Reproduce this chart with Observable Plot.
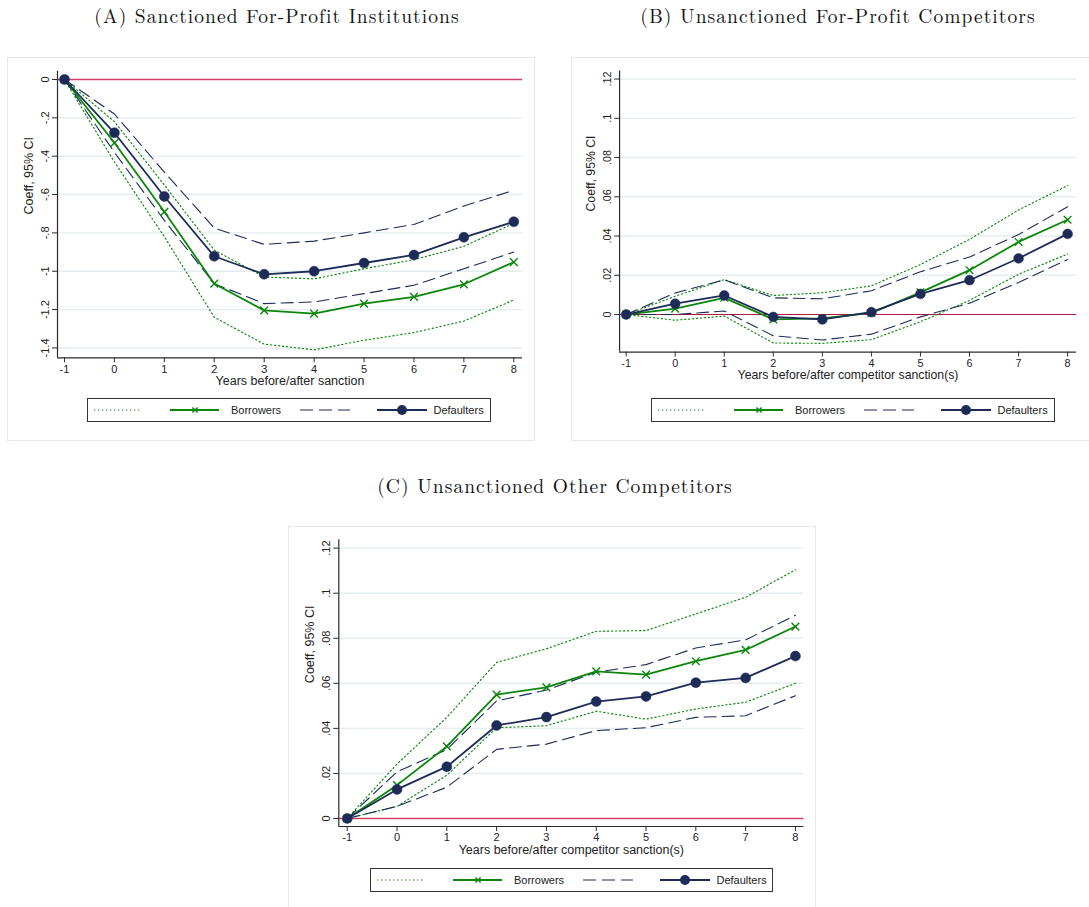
<!DOCTYPE html>
<html>
<head>
<meta charset="utf-8">
<script src="https://cdn.jsdelivr.net/npm/d3@7"></script>
<script src="https://cdn.jsdelivr.net/npm/@observablehq/plot@0.6"></script>
<style>
  html, body { margin: 0; padding: 0; background: #fff; }
  body { width: 1089px; height: 907px; position: relative; overflow: hidden; }
  .box { position: absolute; border: 1px solid #e3eaed; box-sizing: border-box; }
  .title { position: absolute; text-align: center; font-family: "Latin Modern Roman", "CMU Serif", "Liberation Serif", serif; font-size: 19.5px; letter-spacing: 1.05px; line-height: 20px; color: #111; white-space: nowrap; }
  .panel { position: absolute; }
  .legend { position: absolute; border: 1px solid #333; box-sizing: border-box; background: #fff; }
  .legend svg { display: block; }
</style>
</head>
<body>
<script>
// ---------- data ----------
const years = [-1, 0, 1, 2, 3, 4, 5, 6, 7, 8];

// Panel A: Sanctioned For-Profit Institutions
const A_borrowers    = [0, -0.330, -0.690, -1.065, -1.204, -1.221, -1.169, -1.134, -1.068, -0.952];
const A_borrowers_lo = [0, -0.430, -0.820, -1.240, -1.380, -1.410, -1.360, -1.320, -1.260, -1.150];
const A_borrowers_hi = [0, -0.220, -0.550, -0.890, -1.030, -1.040, -0.987, -0.940, -0.870, -0.750];
const A_defaulters    = [0, -0.278, -0.610, -0.922, -1.016, -1.000, -0.957, -0.915, -0.823, -0.742];
const A_defaulters_lo = [0, -0.380, -0.735, -1.065, -1.169, -1.160, -1.117, -1.073, -0.987, -0.900];
const A_defaulters_hi = [0, -0.180, -0.483, -0.775, -0.860, -0.843, -0.800, -0.756, -0.660, -0.578];
const A_yticks = [0, -0.2, -0.4, -0.6, -0.8, -1, -1.2, -1.4];

// Panel B: Unsanctioned For-Profit Competitors
const B_borrowers    = [0, 0.0030, 0.0085, -0.0025, -0.0020, 0.0008, 0.0113, 0.0226, 0.0370, 0.0483];
const B_borrowers_lo = [0, -0.0029, -0.0008, -0.0145, -0.0147, -0.0128, -0.0037, 0.0072, 0.0205, 0.0308];
const B_borrowers_hi = [0, 0.0093, 0.0178, 0.0097, 0.0111, 0.0146, 0.0255, 0.0383, 0.0533, 0.0657];
const B_defaulters    = [0, 0.0055, 0.0097, -0.0012, -0.0025, 0.0012, 0.0105, 0.0175, 0.0286, 0.0411];
const B_defaulters_lo = [0, 0.0000, 0.0018, -0.0108, -0.0130, -0.0100, -0.0012, 0.0058, 0.0163, 0.0280];
const B_defaulters_hi = [0, 0.0110, 0.0177, 0.0085, 0.0080, 0.0121, 0.0218, 0.0293, 0.0408, 0.0549];
const B_yticks = [0, 0.02, 0.04, 0.06, 0.08, 0.1, 0.12];

// Panel C: Unsanctioned Other Competitors
const C_borrowers    = [0, 0.0148, 0.0320, 0.0550, 0.0582, 0.0653, 0.0639, 0.0698, 0.0748, 0.0852];
const C_borrowers_lo = [0, 0.0054, 0.0192, 0.0403, 0.0412, 0.0476, 0.0441, 0.0486, 0.0516, 0.0600];
const C_borrowers_hi = [0, 0.0242, 0.0449, 0.0693, 0.0753, 0.0831, 0.0834, 0.0908, 0.0982, 0.1104];
const C_defaulters    = [0, 0.0129, 0.0230, 0.0413, 0.0450, 0.0519, 0.0542, 0.0603, 0.0624, 0.0721];
const C_defaulters_lo = [0, 0.0054, 0.0139, 0.0307, 0.0330, 0.0390, 0.0403, 0.0449, 0.0456, 0.0545];
const C_defaulters_hi = [0, 0.0207, 0.0306, 0.0522, 0.0570, 0.0649, 0.0683, 0.0757, 0.0793, 0.0902];
const C_yticks = [0, 0.02, 0.04, 0.06, 0.08, 0.1, 0.12];

const titles = ["(A) Sanctioned For-Profit Institutions", "(B) Unsanctioned For-Profit Competitors", "(C) Unsanctioned Other Competitors"];
const xLabels = ["Years before/after sanction", "Years before/after competitor sanction(s)", "Years before/after competitor sanction(s)"];
const yLabel = "Coeff, 95% CI";
const legendLabels = ["Borrowers", "Defaulters"];

// ---------- style ----------
const GREEN = "#0a870a";
const NAVY = "#1c2b57";
const GRID = "#e4edef";
const AXIS = "#2a2a2a";

function stataFmt(d) {
  const s = (Math.round(d * 100) / 100).toString();
  return s.replace(/^(-?)0\.(\d)/, "$1.$2");
}

function makePanel(cfg) {
  const data = years.map((x, i) => ({
    x, b: cfg.b[i], bl: cfg.bl[i], bh: cfg.bh[i], d: cfg.d[i], dl: cfg.dl[i], dh: cfg.dh[i]
  }));
  const grid = cfg.yticks.filter(t => t !== 0);
  return Plot.plot({
    width: 528,
    height: 341,
    marginLeft: cfg.ml,
    marginRight: cfg.mr,
    marginTop: cfg.mt,
    marginBottom: cfg.mb,
    style: {fontFamily: "'Liberation Sans', Arial, Helvetica, sans-serif", fontSize: "11px", background: "transparent", color: "#222", overflow: "visible"},
    x: {domain: cfg.xdom},
    y: {domain: cfg.ydom},
    marks: [
      Plot.gridY(grid, {stroke: GRID, strokeOpacity: 1, strokeWidth: 1.4}),
      Plot.ruleY([0], {stroke: cfg.zeroColor, strokeWidth: cfg.zeroW}),
      Plot.line(data, {x: "x", y: "bl", stroke: GREEN, strokeWidth: 1.15, strokeDasharray: "1.3,2.7"}),
      Plot.line(data, {x: "x", y: "bh", stroke: GREEN, strokeWidth: 1.15, strokeDasharray: "1.3,2.7"}),
      Plot.line(data, {x: "x", y: "dl", stroke: NAVY, strokeWidth: 1.1, strokeDasharray: "12,6"}),
      Plot.line(data, {x: "x", y: "dh", stroke: NAVY, strokeWidth: 1.1, strokeDasharray: "12,6"}),
      Plot.line(data, {x: "x", y: "b", stroke: GREEN, strokeWidth: 1.8}),
      Plot.dot(data, {x: "x", y: "b", symbol: "times", r: 3.6, stroke: GREEN, strokeWidth: 1.4}),
      Plot.line(data, {x: "x", y: "d", stroke: NAVY, strokeWidth: 1.8}),
      Plot.dot(data, {x: "x", y: "d", r: 5, fill: NAVY, stroke: NAVY, strokeWidth: 0.5}),
      Plot.ruleX([cfg.xdom[0]], {stroke: AXIS, strokeWidth: 1.2}),
      Plot.ruleY([cfg.ydom[0]], {stroke: AXIS, strokeWidth: 1.2}),
      Plot.axisX({ticks: years, tickFormat: d => String(d), tickSize: 5, tickPadding: 2, label: null, stroke: AXIS}),
      Plot.axisY({ticks: cfg.yticks, tickFormat: stataFmt, tickRotate: -90, tickSize: 5, tickPadding: 4, label: null, stroke: AXIS}),
      Plot.text([cfg.xlabel], {frameAnchor: "bottom", dy: 27, text: d => d, fontSize: 12.5, fill: "#222"}),
      Plot.text([yLabel], {frameAnchor: "left", dx: -29, rotate: -90, text: d => d, fontSize: 12.5, fill: "#222"})
    ]
  });
}

function legendSVG(w) {
  const y = 11;
  return `<svg width="${w}" height="22" xmlns="http://www.w3.org/2000/svg" font-family="'Liberation Sans', Arial, sans-serif" font-size="11">
    <line x1="6" x2="54" y1="${y}" y2="${y}" stroke="${GREEN}" stroke-width="1.15" stroke-dasharray="1.3,2.7"/>
    <line x1="82" x2="131" y1="${y}" y2="${y}" stroke="${GREEN}" stroke-width="1.8"/>
    <path d="M104.4,${y - 2.6}L109.6,${y + 2.6}M109.6,${y - 2.6}L104.4,${y + 2.6}" stroke="${GREEN}" stroke-width="1.4"/>
    <text x="143" y="${y}" dy="0.35em" fill="#222">${legendLabels[0]}</text>
    <line x1="212" x2="262" y1="${y}" y2="${y}" stroke="${NAVY}" stroke-width="1.1" stroke-dasharray="13,6"/>
    <line x1="289" x2="339" y1="${y}" y2="${y}" stroke="${NAVY}" stroke-width="1.8"/>
    <circle cx="314" cy="${y}" r="5" fill="${NAVY}"/>
    <text x="345.5" y="${y}" dy="0.35em" fill="#222">${legendLabels[1]}</text>
  </svg>`;
}

function addDiv(cls, left, top, width, height, html) {
  const el = document.createElement("div");
  el.className = cls;
  el.style.left = left + "px";
  el.style.top = top + "px";
  if (width != null) el.style.width = width + "px";
  if (height != null) el.style.height = height + "px";
  if (html != null) el.innerHTML = html;
  document.body.appendChild(el);
  return el;
}

const panels = [
  {box: [7, 57, 528, 384], title: [277, 5], svg: [7, 57], legend: [87.3, 398.3],
   b: A_borrowers, bl: A_borrowers_lo, bh: A_borrowers_hi, d: A_defaulters, dl: A_defaulters_lo, dh: A_defaulters_hi,
   yticks: A_yticks, xdom: [-1.14, 8.174], ydom: [-1.4515, 0.0433], ml: 50, mr: 13, mt: 13.7, mb: 40.7,
   zeroColor: "#d2406a", zeroW: 1.7, xlabel: xLabels[0]},
  {box: [571, 57, 528, 384], title: [838, 5], svg: [571, 57], legend: [651, 398.3],
   b: B_borrowers, bl: B_borrowers_lo, bh: B_borrowers_hi, d: B_defaulters, dl: B_defaulters_lo, dh: B_defaulters_hi,
   yticks: B_yticks, xdom: [-1.134, 8.18], ydom: [-0.01915, 0.12415], ml: 49, mr: 13.3, mt: 13.7, mb: 40.7,
   zeroColor: "#b3183c", zeroW: 1.1, xlabel: xLabels[1]},
  {box: [288, 526, 528, 400], title: [555, 475], svg: [288, 526], legend: [369.5, 867.5],
   b: C_borrowers, bl: C_borrowers_lo, bh: C_borrowers_hi, d: C_defaulters, dl: C_defaulters_lo, dh: C_defaulters_hi,
   yticks: C_yticks, xdom: [-1.169, 8.17], ydom: [-0.00355, 0.1237], ml: 50.3, mr: 12.6, mt: 13.3, mb: 41,
   zeroColor: "#d2406a", zeroW: 1.7, xlabel: xLabels[2]}
];

panels.forEach((p, i) => {
  addDiv("box", p.box[0], p.box[1], p.box[2], p.box[3]);
  const t = addDiv("title", p.title[0] - 300, p.title[1], 600, null);
  t.textContent = titles[i];
  const holder = addDiv("panel", p.svg[0], p.svg[1], null, null);
  holder.appendChild(makePanel(p));
  addDiv("legend", p.legend[0], p.legend[1], 403.5, 24, legendSVG(402));
});
</script>
</body>
</html>
